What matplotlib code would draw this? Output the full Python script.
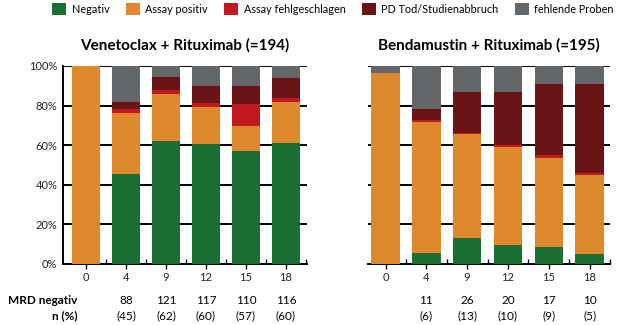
import matplotlib
matplotlib.use("Agg")
import matplotlib.pyplot as plt
import matplotlib.transforms as mtransforms
from matplotlib.patches import Patch
import numpy as np

plt.rcParams['font.family'] = ['Lato', 'DejaVu Sans']

months = ["0", "4", "9", "12", "15", "18"]
categories = ["Negativ", "Assay positiv", "Assay fehlgeschlagen", "PD Tod/Studienabbruch", "fehlende Proben"]
colors = ["#1b6f35", "#de8a2c", "#c1191f", "#6b1415", "#63676a"]

# Venetoclax + Rituximab (percent)
ven_neg = [0, 45.5, 62.2, 60.8, 57.1, 61.0]
ven_pos = [100, 30.6, 23.7, 18.4, 12.8, 21.0]
ven_fail = [0, 2.2, 2.2, 2.3, 10.8, 1.7]
ven_pd = [0, 3.5, 6.2, 8.4, 9.0, 10.4]
ven_miss = [0, 18.2, 5.7, 10.1, 10.3, 5.9]

# Bendamustin + Rituximab (percent)
ben_neg = [0, 5.5, 12.9, 9.7, 8.4, 4.9]
ben_pos = [96.6, 66.4, 52.6, 49.6, 45.2, 40.1]
ben_fail = [0, 0.7, 0.9, 0.9, 1.5, 0.9]
ben_pd = [0, 5.9, 20.5, 26.9, 35.7, 44.9]
ben_miss = [3.4, 21.5, 13.1, 12.9, 9.2, 9.2]

ven_mrd_n = ["", "88", "121", "117", "110", "116"]
ven_mrd_pct = ["", "(45)", "(62)", "(60)", "(57)", "(60)"]
ben_mrd_n = ["", "11", "26", "20", "17", "10"]
ben_mrd_pct = ["", "(6)", "(13)", "(10)", "(9)", "(5)"]

titles = ["Venetoclax + Rituximab (=194)", "Bendamustin + Rituximab (=195)"]
yticks = [0, 20, 40, 60, 80, 100]
ytick_labels = ["0%", "20%", "40%", "60%", "80%", "100%"]

fig = plt.figure(figsize=(6.2, 3.25), dpi=100)
W, H = 620, 325

def axrect(x0, x1, ytop, ybot):
    return [x0 / W, 1 - ybot / H, (x1 - x0) / W, (ybot - ytop) / H]

ax1 = fig.add_axes(axrect(63, 307, 66, 264))
ax2 = fig.add_axes(axrect(368, 610, 66, 264))

series_sets = [
    [ven_neg, ven_pos, ven_fail, ven_pd, ven_miss],
    [ben_neg, ben_pos, ben_fail, ben_pd, ben_miss],
]
xlims = [(-0.575, 5.525), (-0.43, 5.49)]
mrd_n = [ven_mrd_n, ben_mrd_n]
mrd_p = [ven_mrd_pct, ben_mrd_pct]

for i, ax in enumerate([ax1, ax2]):
    x = np.arange(len(months))
    bottom = np.zeros(len(months))
    for vals, c in zip(series_sets[i], colors):
        v = np.array(vals, dtype=float)
        ax.bar(x, v, bottom=bottom, width=0.7, color=c, zorder=3, linewidth=0)
        bottom += v
    ax.set_ylim(0, 100)
    ax.set_xlim(*xlims[i])
    ax.set_yticks(yticks)
    for yv in yticks[1:]:
        ax.axhline(yv, color="black", lw=1.4, zorder=1)
    ax.set_xticks(x)
    ax.set_xticklabels(months, fontsize=8, color="#222222")
    ax.set_xticks(np.arange(0.5, 6.0, 1.0), minor=True)
    ax.tick_params(axis="x", which="major", direction="out", length=3.5, width=1, pad=2)
    ax.tick_params(axis="x", which="minor", direction="in", length=3.5, width=1)
    ax.tick_params(axis="y", length=0, pad=4)
    for s in ["top", "right"]:
        ax.spines[s].set_visible(False)
    ax.spines["bottom"].set_linewidth(1.4)
    if i == 0:
        ax.set_yticklabels(ytick_labels, fontsize=8, color="#222222")
        ax.spines["left"].set_linewidth(1.4)
    else:
        ax.set_yticklabels([])
        ax.spines["left"].set_visible(False)
    ax.set_title(titles[i], fontsize=11, fontweight="bold", pad=12)
    trans = mtransforms.blended_transform_factory(ax.transData, fig.transFigure)
    for j in range(len(months)):
        ax.text(x[j], 1 - 300 / H, mrd_n[i][j], ha="center", va="center", fontsize=8.5, transform=trans)
        ax.text(x[j], 1 - 316 / H, mrd_p[i][j], ha="center", va="center", fontsize=8.5, transform=trans)

fig.text(77 / W, 1 - 300 / H, "MRD negativ", ha="right", va="center", fontsize=8.5, fontweight="bold")
fig.text(77 / W, 1 - 316 / H, "n (%)", ha="right", va="center", fontsize=8.5, fontweight="bold")

handles = [Patch(facecolor=c, edgecolor="none") for c in colors]
fig.legend(handles, categories, loc="center", bbox_to_anchor=(333 / W, 1 - 9 / H), ncol=5,
           frameon=False, fontsize=7.8, handlelength=1.3, handleheight=1.3, handletextpad=0.5,
           columnspacing=1.5, borderaxespad=0)

fig.savefig("out.png", dpi=100)
